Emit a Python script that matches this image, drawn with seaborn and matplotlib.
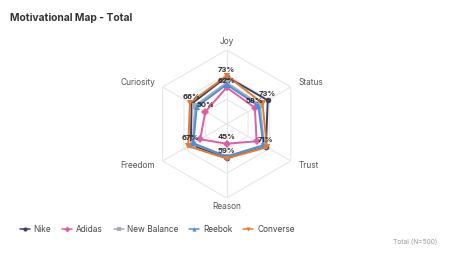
import numpy as np
import pandas as pd
import seaborn as sns
import matplotlib.pyplot as plt

axes_names = ["Joy", "Status", "Trust", "Reason", "Freedom", "Curiosity"]
brands = ["Nike", "Adidas", "New Balance", "Reebok", "Converse"]
nike = [73, 73, 71, 59, 67, 66]
adidas = [62, 58, 60, 45, 56, 50]
new_balance = [67, 64, 69, 58, 65, 62]
reebok = [65, 62, 68, 58, 64, 60]
converse = [74, 67, 72, 60, 70, 68]
series = [nike, adidas, new_balance, reebok, converse]

colors = ["#3c4058", "#dd5ea6", "#a3aab8", "#4f8dd6", "#e07a38"]
markers = ["o", "D", "s", "^", "v"]

# which values carry a % label (others hidden by overlap in the original)
labelled = {
    "Nike": [0, 1, 2, 3, 4, 5],
    "Adidas": [0, 1, 3, 5],
}

r_min, r_max = 25, 100
rings = [50, 75, 100]

sns.set_theme(style="white")
plt.rcParams["font.family"] = ["Inter", "DejaVu Sans"]

n = len(axes_names)
theta = np.linspace(0, 2 * np.pi, n, endpoint=False)
theta_closed = np.append(theta, 2 * np.pi)

rows = []
for b, vals in zip(brands, series):
    for t, v in zip(theta_closed, vals + vals[:1]):
        rows.append({"brand": b, "theta": t, "value": v})
df = pd.DataFrame(rows)

fig = plt.figure(figsize=(4.54, 2.58), dpi=100)
ax = fig.add_axes([0.3363, 0.2326, 0.326, 0.5736], projection="polar")
ax.set_theta_zero_location("N")
ax.set_theta_direction(-1)
ax.set_ylim(r_min, r_max)
ax.grid(False)
ax.spines["polar"].set_visible(False)
ax.set_xticks([])
ax.set_yticks([])

# hexagon grid
for r in rings:
    ax.plot(theta_closed, [r] * (n + 1), color="#e6e6e6", lw=0.8, zorder=0)
for t in theta:
    ax.plot([t, t], [r_min, r_max], color="#e6e6e6", lw=0.8, zorder=0)

sns.lineplot(
    data=df, x="theta", y="value", hue="brand", style="brand",
    hue_order=brands, style_order=brands, palette=colors,
    markers=dict(zip(brands, markers)), dashes=False, sort=False,
    lw=1.4, markersize=4, markeredgewidth=0, ax=ax, legend=True,
)
ax.set_xlabel("")
ax.set_ylabel("")

# percentage labels
for b, vals in zip(brands, series):
    for i in labelled.get(b, []):
        ax.annotate(
            f"{vals[i]}%", (theta[i], vals[i]), xytext=(0, 2.5),
            textcoords="offset points", ha="center", va="bottom",
            fontsize=5.5, fontweight="bold", color="#2b2b2b", zorder=10,
        )

# axis names
place = [
    ("center", "bottom", 104),
    ("left", "center", 109),
    ("left", "center", 109),
    ("center", "top", 104),
    ("right", "center", 109),
    ("right", "center", 109),
]
for t, name, (ha, va, r) in zip(theta, axes_names, place):
    ax.text(t, r, name, ha=ha, va=va, fontsize=6, color="#555555")

handles, labels = ax.get_legend_handles_labels()
for h in handles:
    h.set_markersize(3)
    h.set_linewidth(1.1)
ax.get_legend().remove()
fig.legend(
    handles, labels, loc="center left", bbox_to_anchor=(0.044, 0.112),
    ncol=5, frameon=False, fontsize=6, handlelength=1.2,
    handletextpad=0.45, columnspacing=1.3, labelcolor="#444444",
    borderpad=0, borderaxespad=0,
)

fig.text(0.022, 0.93, "Motivational Map - Total", fontsize=7.4,
         fontweight="bold", color="#333333", va="center")
fig.text(0.963, 0.062, "Total (N=500)", fontsize=4.8, color="#999999",
         ha="right", va="center")

fig.savefig("out.png", dpi=100)
